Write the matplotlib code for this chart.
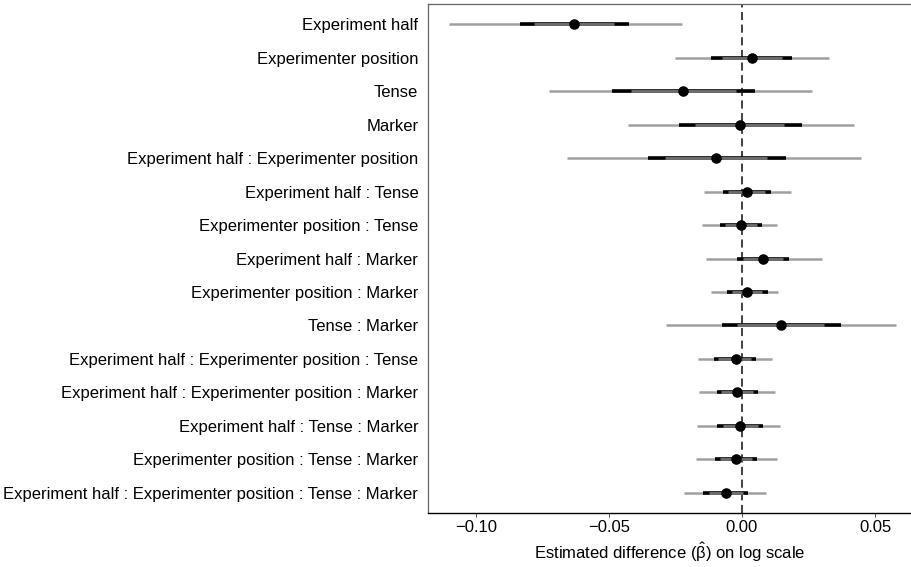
import numpy as np
import matplotlib
matplotlib.use("Agg")
import matplotlib.pyplot as plt

terms = [
    "Experiment half",
    "Experimenter position",
    "Tense",
    "Marker",
    "Experiment half : Experimenter position",
    "Experiment half : Tense",
    "Experimenter position : Tense",
    "Experiment half : Marker",
    "Experimenter position : Marker",
    "Tense : Marker",
    "Experiment half : Experimenter position : Tense",
    "Experiment half : Experimenter position : Marker",
    "Experiment half : Tense : Marker",
    "Experimenter position : Tense : Marker",
    "Experiment half : Experimenter position : Tense : Marker",
]

estimate = [-0.0632, 0.0036, -0.0223, -0.0008, -0.0099, 0.0018, -0.0005, 0.0080,
            0.0020, 0.0147, -0.0024, -0.0018, -0.0008, -0.0023, -0.0060]

# outer interval (light grey)
outer_lo = [-0.1100, -0.0252, -0.0726, -0.0427, -0.0658, -0.0143, -0.0149, -0.0135,
            -0.0117, -0.0287, -0.0167, -0.0162, -0.0170, -0.0173, -0.0218]
outer_hi = [-0.0227, 0.0328, 0.0264, 0.0422, 0.0446, 0.0183, 0.0130, 0.0300,
            0.0137, 0.0578, 0.0114, 0.0124, 0.0143, 0.0130, 0.0090]

# middle interval (black)
mid_lo = [-0.0835, -0.0117, -0.0488, -0.0236, -0.0352, -0.0073, -0.0083, -0.0020,
          -0.0058, -0.0074, -0.0104, -0.0095, -0.0093, -0.0102, -0.0145]
mid_hi = [-0.0425, 0.0189, 0.0049, 0.0227, 0.0165, 0.0108, 0.0074, 0.0178,
          0.0099, 0.0371, 0.0053, 0.0059, 0.0078, 0.0055, 0.0024]

# inner interval (dark grey)
inner_lo = [-0.0780, -0.0076, -0.0418, -0.0177, -0.0289, -0.0054, -0.0064, 0.0005,
            -0.0039, -0.0018, -0.0089, -0.0079, -0.0073, -0.0083, -0.0123]
inner_hi = [-0.0480, 0.0149, -0.0023, 0.0159, 0.0093, 0.0086, 0.0055, 0.0153,
            0.0074, 0.0308, 0.0034, 0.0040, 0.0061, 0.0036, 0.0003]

xticks = [-0.10, -0.05, 0.00, 0.05]
xticklabels = ["\u22120.10", "\u22120.05", "0.00", "0.05"]


def plot():
    plt.rcParams["font.family"] = ["Liberation Sans", "DejaVu Sans"]
    plt.rcParams["mathtext.fontset"] = "custom"
    plt.rcParams["mathtext.rm"] = "Liberation Sans"
    plt.rcParams["mathtext.it"] = "Liberation Sans:italic"

    fig = plt.figure(figsize=(9.12, 5.67), dpi=100)
    ax = fig.add_axes([428 / 912, 1 - 513 / 567, 1 - 428 / 912, 509 / 567])

    n = len(terms)
    y = np.arange(n)

    ax.axvline(0, color="#333333", linestyle=(0, (4.5, 2.5)), linewidth=1.3, zorder=1)

    ax.hlines(y, outer_lo, outer_hi, color="#a0a0a0", linewidth=1.8, zorder=2)
    ax.hlines(y, mid_lo, mid_hi, color="black", linewidth=2.6, zorder=3)
    ax.hlines(y, inner_lo, inner_hi, color="#6e6e6e", linewidth=2.1, zorder=4)
    ax.plot(estimate, y, "o", color="black", markersize=7.6, markeredgewidth=0, zorder=5)

    ax.set_ylim(n - 1 + 0.6, -0.6)
    ax.set_xlim(-0.118, 0.0639)
    ax.set_yticks(y)
    ax.set_yticklabels(terms, fontsize=12)
    ax.set_xticks(xticks)
    ax.set_xticklabels(xticklabels, fontsize=12)
    ax.tick_params(axis="y", length=0, pad=7)
    ax.tick_params(axis="x", length=3, width=0.6, pad=2, color="#333333")
    ax.set_xlabel(r"Estimated difference ($\hat{\mathrm{\beta}}$) on log scale",
                  fontsize=12, labelpad=4)

    ax.spines["right"].set_visible(False)
    ax.spines["top"].set_color("#666666")
    ax.spines["left"].set_color("#666666")
    ax.spines["top"].set_linewidth(0.9)
    ax.spines["left"].set_linewidth(0.9)
    ax.spines["bottom"].set_color("black")
    ax.spines["bottom"].set_linewidth(1.0)

    return fig


def main():
    fig = plot()
    fig.savefig("out.png", dpi=100)


if __name__ == "__main__":
    main()
